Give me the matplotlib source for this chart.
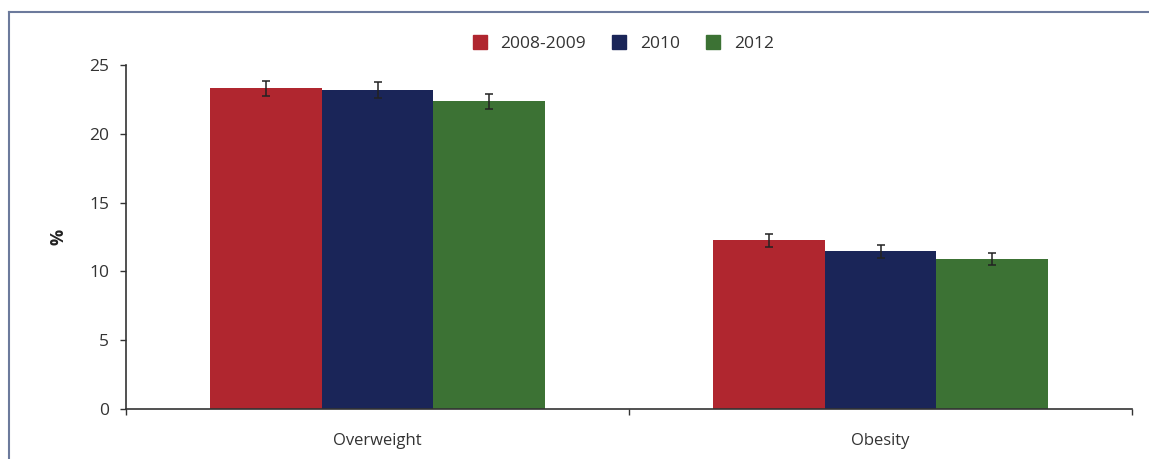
import matplotlib
matplotlib.use("Agg")
import matplotlib.pyplot as plt
from matplotlib.lines import Line2D
import numpy as np

categories = ["Overweight", "Obesity"]
series = ["2008-2009", "2010", "2012"]
values = {
    "2008-2009": [23.3, 12.27],
    "2010": [23.16, 11.47],
    "2012": [22.35, 10.9],
}
errors = {
    "2008-2009": [0.56, 0.48],
    "2010": [0.58, 0.46],
    "2012": [0.56, 0.42],
}
colors = {"2008-2009": "#B0262F", "2010": "#1A2558", "2012": "#3C7234"}

plt.rcParams['font.family'] = ['Open Sans', 'DejaVu Sans']

fig = plt.figure(figsize=(11.49, 4.59), dpi=100)
ax = fig.add_axes([126/1149, 1-409/459, (1132-126)/1149, (409-65)/459])

x = np.arange(len(categories))
w = 0.222
for i, s in enumerate(series):
    ax.bar(x + (i-1)*w, values[s], width=w, color=colors[s], label=s,
           yerr=errors[s], error_kw=dict(ecolor='#222222', elinewidth=1.1, capsize=3, capthick=1.1),
           zorder=2)

ax.set_xlim(-0.5, 1.5)
ax.set_ylim(0, 25)
ax.set_yticks([0, 5, 10, 15, 20, 25])
ax.tick_params(axis='y', labelsize=12.5, length=4, width=1, colors='#333333', pad=8)
ax.set_xticks(x)
ax.set_xticklabels(categories)
ax.set_xticks([-0.5, 0.5, 1.5], minor=True)
ax.tick_params(axis='x', which='major', length=0, labelsize=12, pad=17, colors='#333333')
ax.tick_params(axis='x', which='minor', length=4, width=1, color='#333333')
for sp in ['top', 'right']:
    ax.spines[sp].set_visible(False)
for sp in ['left', 'bottom']:
    ax.spines[sp].set_color('#333333')
    ax.spines[sp].set_linewidth(1.2)
ax.set_ylabel('%', fontsize=13, fontweight='bold', labelpad=16, color='#222222')

handles = [Line2D([0], [0], marker='s', linestyle='none', markersize=9.5,
                  markerfacecolor=colors[s], markeredgecolor=colors[s]) for s in series]
fig.legend(handles, series, loc='center', bbox_to_anchor=(618/1149, 1-44/459), ncol=3,
           frameon=False, fontsize=12.5, handletextpad=0.2, columnspacing=0.9,
           labelcolor='#333333')

# outer frame (top and left)
fig.add_artist(Line2D([9/1149, 1], [1-12/459, 1-12/459], color='#6C7A9C', linewidth=1.5,
                      transform=fig.transFigure))
fig.add_artist(Line2D([9/1149, 9/1149], [0, 1-12/459], color='#6C7A9C', linewidth=1.5,
                      transform=fig.transFigure))

fig.savefig('out.png', dpi=100)
